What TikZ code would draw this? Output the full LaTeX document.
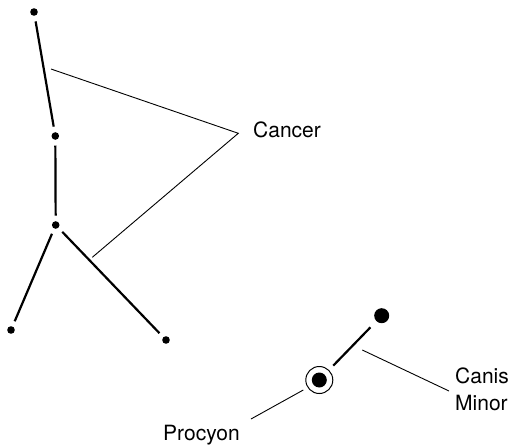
\documentclass[tikz,border=0pt]{standalone}
\usepackage{fontspec}
\setmainfont{TeX Gyre Heros}
\begin{document}
\begin{tikzpicture}[x=1pt,y=-1pt,
  star/.style={circle,fill=black,inner sep=0pt,minimum size=7.6pt},
  bigstar/.style={circle,fill=black,inner sep=0pt,minimum size=15pt},
  ringstar/.style={circle,draw=black,line width=1pt,inner sep=0pt,minimum size=27pt},
  figline/.style={line width=2.2pt,shorten >=5.5pt,shorten <=5.5pt},
  leader/.style={line width=0.9pt},
  lbl/.style={inner sep=0pt,font=\fontsize{21}{27}\selectfont,align=left}]
\useasboundingbox (0,0) rectangle (509,445);
% Cancer
\node[star] (A) at (34,12) {};
\node[star] (B) at (55.3,136) {};
\node[star] (C) at (55.7,225) {};
\node[star] (D) at (11,330) {};
\node[star] (E) at (166,340) {};
\draw[figline] (A) -- (B);
\draw[figline] (B) -- (C);
\draw[figline] (C) -- (D);
\draw[figline] (C) -- (E);
\node[lbl,anchor=base west] (cancer) at (253,137) {Cancer};
\coordinate (cv) at (238.3,133.3);
\coordinate (c1) at (51,69);
\coordinate (c2) at (92.3,257.3);
\draw[leader] (c1) -- (cv) -- (c2);
% Canis Minor
\node[bigstar] (G) at (381.7,315.7) {};
\node[ringstar] (P) at (319.3,380) {};
\node[bigstar] (Pin) at (319.3,380) {};
\draw[line width=2.2pt,shorten >=8.5pt,shorten <=6pt] (P) -- (G);
\node[lbl,anchor=base west] (procyon) at (163,440) {Procyon};
\node[lbl,anchor=base west] (canis) at (455,410) {Canis\\Minor};
\coordinate (p1) at (303.3,390);
\coordinate (p2) at (251,419);
\draw[leader] (p1) -- (p2);
\coordinate (m1) at (362.3,350);
\coordinate (m2) at (449,391);
\draw[leader] (m1) -- (m2);
\end{tikzpicture}
\end{document}
